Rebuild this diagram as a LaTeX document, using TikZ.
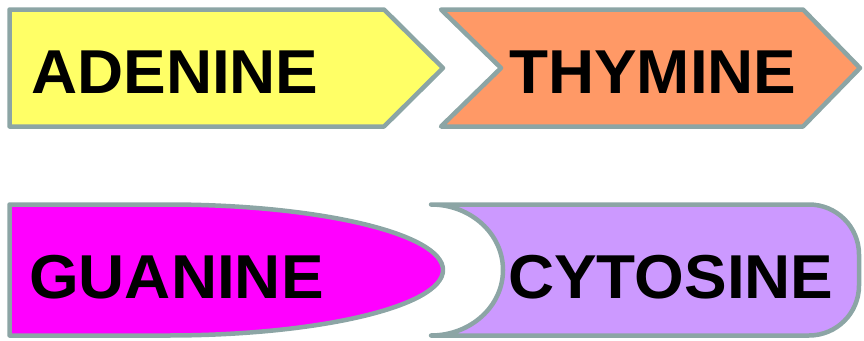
\documentclass[tikz,border=0pt]{standalone}
\usepackage{fontspec}
\setmainfont{Liberation Sans}[FakeStretch=1.03]
\definecolor{edgegray}{RGB}{140,165,165}
\definecolor{adeninefill}{RGB}{255,255,102}
\definecolor{thyminefill}{RGB}{255,153,102}
\definecolor{guaninefill}{RGB}{255,0,255}
\definecolor{cytosinefill}{RGB}{204,153,255}
\tikzset{
  base/.style={draw=edgegray, line width=4.5pt, line join=round, line cap=round},
  label/.style={anchor=base west, inner sep=0pt, text=black,
    font=\fontsize{62}{62}\selectfont\bfseries},
}
\begin{document}
\begin{tikzpicture}[x=1pt, y=-1pt]
  \useasboundingbox (0,0) rectangle (864,340);

  % arrow-shaped base tiles
  \draw[base, fill=adeninefill]
    (9.5,9.5) -- (384,9.5) -- (443,68) -- (384,126.5) -- (9.5,126.5) -- cycle;
  \draw[base, fill=thyminefill]
    (441,9.5) -- (803,9.5) -- (860,68) -- (803,126.5) -- (441,126.5) -- (501,68) -- cycle;

  % rounded base tiles that fit into each other
  \draw[base, fill=guaninefill]
    (9.5,204.5) -- (167,204.5)
    arc[start angle=-90, end angle=90, x radius=276, y radius=65.5]
    -- (9.5,335.5) -- cycle;
  \draw[base, fill=cytosinefill]
    (431,204.5) -- (809,204.5)
    arc[start angle=-90, end angle=0, radius=50]
    -- (859,285.5)
    arc[start angle=0, end angle=90, radius=50]
    -- (431,335.5)
    arc[start angle=90, end angle=-90, x radius=72, y radius=65.5]
    -- cycle;

  % names
  \node[label] (adenine) at (31,93.5) {ADENINE};
  \node[label] (thymine) at (509,93.5) {THYMINE};
  \node[label] (guanine) at (29,298) {GUANINE};
  \node[label] (cytosine) at (508,298) {CYTOSINE};
\end{tikzpicture}
\end{document}
